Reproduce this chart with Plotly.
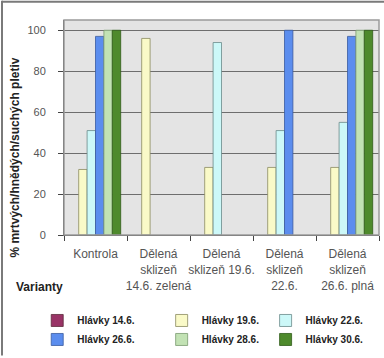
import plotly.graph_objects as go

# Categories (variants) and the percentage of dead/brown/dry tissue per harvest date
categories = [
    "Kontrola",
    "Dělená<br>sklizeň<br>14.6. zelená",
    "Dělená<br>sklizeň 19.6.",
    "Dělená<br>sklizeň<br>22.6.",
    "Dělená<br>sklizeň<br>26.6. plná",
]
series_names = ["Hlávky 14.6.", "Hlávky 19.6.", "Hlávky 22.6.",
                "Hlávky 26.6.", "Hlávky 28.6.", "Hlávky 30.6."]
hlavky_14_6 = [None, None, None, None, None]
hlavky_19_6 = [32, 96, 33, 33, 33]
hlavky_22_6 = [51, None, 94, 51, 55]
hlavky_26_6 = [97, None, None, 100, 97]
hlavky_28_6 = [100, None, None, None, 100]
hlavky_30_6 = [100, None, None, None, 100]
y_ticks = [0, 20, 40, 60, 80, 100]

values = [hlavky_14_6, hlavky_19_6, hlavky_22_6, hlavky_26_6, hlavky_28_6, hlavky_30_6]
colors = ["#993366", "#FAFAC8", "#CCF8F8", "#5B8DEE", "#C2E2B4", "#4E8A2C"]
edges = ["#5a2a3a", "#8a8a60", "#6a8a8a", "#3a5aa0", "#7a9a70", "#2e5a18"]
# three stacked legends, one per column (two entries each)
legend_ids = ["legend", "legend2", "legend3", "legend", "legend2", "legend3"]

FONT = "Liberation Sans, Arial, sans-serif"

fig = go.Figure()
for name, vals, col, edge, lg in zip(series_names, values, colors, edges, legend_ids):
    fig.add_trace(go.Bar(
        x=categories, y=vals, name=name,
        marker=dict(color=col, line=dict(color=edge, width=0.8)),
        legend=lg,
    ))

leg_common = dict(
    orientation="v", yanchor="top", y=-0.324,
    font=dict(family=FONT, size=10, color="#222222", weight="bold"),
    bgcolor="rgba(0,0,0,0)", tracegroupgap=0, itemwidth=30,
)

fig.update_layout(
    width=384, height=358,
    margin=dict(l=64, r=5, t=20, b=122),
    paper_bgcolor="white",
    plot_bgcolor="#E4E4E4",
    barmode="group",
    bargap=0.2,
    bargroupgap=0,
    font=dict(family=FONT, size=10, color="#555555"),
    legend=dict(x=-0.085, xanchor="left", **leg_common),
    legend2=dict(x=0.31, xanchor="left", **leg_common),
    legend3=dict(x=0.64, xanchor="left", **leg_common),
    xaxis=dict(
        type="category",
        automargin=False,
        tickson="boundaries",
        tickangle=0,
        ticks="outside", ticklen=5, tickcolor="#444444",
        ticklabelstandoff=8,
        showline=True, linecolor="#444444", linewidth=1,
        mirror=False,
        tickfont=dict(family=FONT, size=12, color="#555555"),
        showgrid=False,
    ),
    yaxis=dict(
        automargin=False,
        range=[0, 105],
        tickvals=y_ticks,
        ticks="outside", ticklen=5, tickcolor="#444444",
        ticklabelstandoff=10,
        showline=True, linecolor="#444444", linewidth=1,
        gridcolor="#6E6E6E", gridwidth=1,
        zeroline=False,
        tickfont=dict(family=FONT, size=11, color="#555555"),
    ),
)

# plot-area frame and chart border
fig.add_shape(type="rect", xref="paper", yref="paper", x0=0, x1=1, y0=0, y1=1,
              line=dict(color="#9A9A9A", width=1.5), layer="above")
fig.add_shape(type="line", xref="paper", yref="paper",
              x0=-62 / 315, x1=-62 / 315, y0=-0.56, y1=1.09,
              line=dict(color="#7A7A7A", width=2))
fig.add_shape(type="line", xref="paper", yref="paper",
              x0=-62 / 315, x1=1.02, y0=1.085, y1=1.085,
              line=dict(color="#7A7A7A", width=2))

# axis titles
fig.add_annotation(text="% mrtvých/hnědých/suchých pletiv", xref="paper", yref="paper",
                   x=-49 / 315, y=0.36, xanchor="center", yanchor="middle",
                   textangle=-90, showarrow=False,
                   font=dict(family=FONT, size=12, color="#222222", weight="bold"))
fig.add_annotation(text="Varianty", xref="paper", yref="paper",
                   x=-50 / 315, y=-0.24, xanchor="left", yanchor="middle", showarrow=False,
                   font=dict(family=FONT, size=12, color="#222222", weight="bold"))

fig.write_html("out.html")
